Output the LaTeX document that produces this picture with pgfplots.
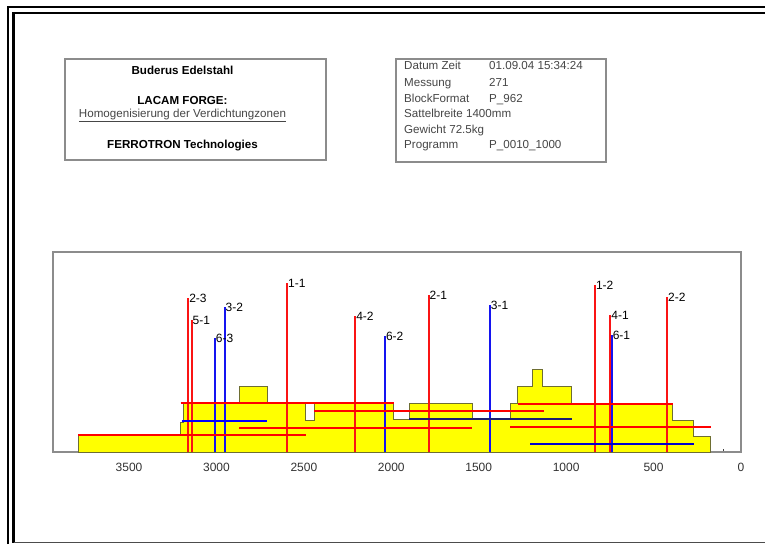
\documentclass[border=0pt]{standalone}
\usepackage{pgfplots}
\pgfplotsset{compat=1.18}
\usepackage{fontspec}
\setmainfont{Liberation Sans}
\definecolor{ylw}{RGB}{255,255,0}
\definecolor{olv}{RGB}{110,110,50}
\definecolor{frm}{RGB}{140,140,140}
\definecolor{txt}{RGB}{70,70,70}
\definecolor{navytwo}{RGB}{30,30,110}
\definecolor{vred}{RGB}{250,20,20}
\definecolor{vblue}{RGB}{20,20,240}
\newcommand{\tf}{\fontsize{11.6}{13}\selectfont}
\newcommand{\lf}{\fontsize{12}{13}\selectfont}
\tikzset{vlab/.style={anchor=west, font=\lf, inner sep=0.8pt}}
\begin{document}
\begin{tikzpicture}[x=1pt,y=1pt]
\useasboundingbox (0,0) rectangle (765,544);
\fill[white] (0,0) rectangle (765,544);
% outer double frame
\draw[line width=2.5pt] (8,0) -- (8,537) -- (765,537);
\draw[line width=2.5pt] (13.6,1.5) -- (13.6,530.8) -- (765,530.8);
\draw[line width=1.4pt, black!70] (13.6,1.5) -- (765,1.5);
% text boxes
\draw[frm, line width=1.2pt] (65,485) rectangle (326,384);
\draw[frm, line width=1.2pt] (396,485) rectangle (606,382);
\node[anchor=base, font=\tf\bfseries, inner sep=0pt] at (182.5,469.8) {Buderus Edelstahl};
\node[anchor=base, font=\tf\bfseries, inner sep=0pt] at (182.5,439.8) {LACAM FORGE:};
\node[anchor=base, font=\tf, text=txt, inner sep=0pt] at (182.5,426.5) {\underline{Homogenisierung der Verdichtungzonen}};
\node[anchor=base, font=\tf\bfseries, inner sep=0pt] at (182.5,395.5) {FERROTRON Technologies};
\begin{scope}[every node/.style={anchor=base west, font=\tf, text=txt, inner sep=0pt}]
\node at (404,474.1) {Datum Zeit};   \node at (489,474.1) {01.09.04 15:34:24};
\node at (404,457.5) {Messung};      \node at (489,457.5) {271};
\node at (404,441.5) {BlockFormat};  \node at (489,441.5) {P\_962};
\node at (404,426.3) {Sattelbreite 1400mm};
\node at (404,410.8) {Gewicht 72.5kg};
\node at (404,395.5) {Programm};     \node at (489,395.5) {P\_0010\_1000};
\end{scope}
\begin{axis}[
  at={(53pt,92pt)}, anchor=south west,
  width=688pt, height=200pt, scale only axis,
  x dir=reverse, xmin=0, xmax=3935, ymin=0, ymax=200,
  clip=false,
  axis line style={frm, line width=1.1pt},
  xtick={0,500,...,3500}, minor x tick num=4,
  ytick=\empty,
  xtick pos=lower, tick align=inside,
  major tick length=5pt, minor tick length=3pt,
  tick style={black!75, line width=0.8pt},
  /pgf/number format/assume math mode=true,
  /pgf/number format/set thousands separator={},
  xticklabel style={font=\lf, anchor=base, yshift=-19pt, text=black!80},
]
% yellow profile
\addplot[draw=olv, line width=1pt, fill=ylw] coordinates {
(3790,0) (3790,17) (3205,17) (3205,30) (3186,30) (3186,49) (2871,49) (2871,66)
(2709,66) (2709,49) (2489,49) (2489,32) (2441,32) (2441,49) (1989,49) (1989,33)
(1897,33) (1897,49) (1538,49) (1538,33) (1319,33) (1319,49) (1276,49) (1276,66)
(1194,66) (1194,83) (1133,83) (1133,66) (970,66) (970,49) (391,49) (391,32)
(273,32) (273,16) (174,16) (174,0)} -- cycle;
% vertical markers (red)
\addplot[ycomb, draw=vred, line width=2pt, mark=none] coordinates {
(3161,154) (3142,132) (2596,169) (2206,136) (1786,157) (835,167) (747,137) (422,155)};
% vertical markers (blue)
\addplot[ycomb, draw=vblue, line width=2pt, mark=none] coordinates {
(3009,114) (2953,145) (2036,116) (1436,147) (739,117)};
\node[vlab] at (axis cs:3161,154) {2-3};
\node[vlab] at (axis cs:3142,132) {5-1};
\node[vlab] at (axis cs:3009,114) {6-3};
\node[vlab] at (axis cs:2953,145) {3-2};
\node[vlab] at (axis cs:2596,169) {1-1};
\node[vlab] at (axis cs:2206,136) {4-2};
\node[vlab] at (axis cs:2036,116) {6-2};
\node[vlab] at (axis cs:1786,157) {2-1};
\node[vlab] at (axis cs:1436,147) {3-1};
\node[vlab] at (axis cs:835,167) {1-2};
\node[vlab] at (axis cs:747,137) {4-1};
\node[vlab] at (axis cs:739,117) {6-1};
\node[vlab] at (axis cs:422,155) {2-2};
% horizontal bars
\addplot[draw=red, line width=2.6pt] coordinates {(3205,49) (1983,49)};
\addplot[draw=red, line width=2.6pt] coordinates {(2441,41) (1129,41)};
\addplot[draw=red, line width=2.6pt] coordinates {(2871,24) (1538,24)};
\addplot[draw=red, line width=2.6pt] coordinates {(3790,17) (2489,17)};
\addplot[draw=red, line width=2.6pt] coordinates {(1276,48) (391,48)};
\addplot[draw=red, line width=2.6pt] coordinates {(1319,25) (172,25)};
\addplot[draw=blue, line width=2.2pt] coordinates {(3199,31) (2709,31)};
\addplot[draw=navytwo, line width=2.2pt] coordinates {(1897,33) (966,33)};
\addplot[draw=blue!80!black, line width=2.2pt] coordinates {(1204,8) (269,8)};
\end{axis}
\end{tikzpicture}
\end{document}
